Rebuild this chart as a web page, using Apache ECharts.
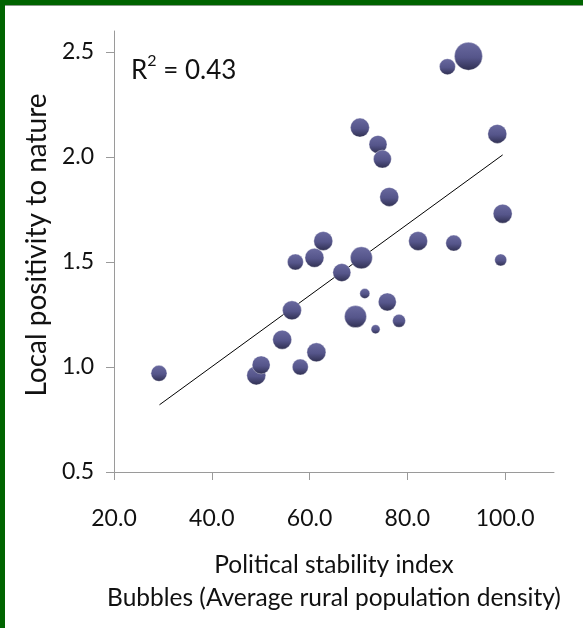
<!DOCTYPE html>
<html>
<head>
<meta charset="utf-8">
<script src="https://cdn.jsdelivr.net/npm/echarts@6/dist/echarts.min.js"></script>
<style>
  html, body { margin: 0; padding: 0; background: #ffffff; }
  #wrap { position: relative; width: 583px; height: 628px; overflow: hidden; background: #fff; }
  #main { position: absolute; left: 0; top: 0; width: 583px; height: 628px; }
  #bt { position: absolute; left: 0; top: 0; width: 583px; height: 5px; background: #006400; border-bottom: 1px solid #8a9a8a; }
  #bl { position: absolute; left: 0; top: 0; width: 5px; height: 628px; background: #006400; }
</style>
</head>
<body>
<div id="wrap"><div id="main"></div><div id="bt"></div><div id="bl"></div></div>
<script>
// Political stability index (x)
const stability = [29.2, 49.1, 50.1, 54.4, 56.4, 57.1, 58.1, 61.4, 61.0, 62.8, 66.6, 69.4, 70.6, 70.3,
                   71.3, 74.0, 74.9, 73.5, 75.9, 76.3, 78.3, 82.2, 88.2, 89.5, 92.5, 98.4, 99.5, 99.1];
// Local positivity to nature (y)
const positivity = [0.97, 0.96, 1.01, 1.13, 1.27, 1.50, 1.00, 1.07, 1.52, 1.60, 1.45, 1.24, 1.52, 2.14,
                    1.35, 2.06, 1.99, 1.18, 1.31, 1.81, 1.22, 1.60, 2.43, 1.59, 2.48, 2.11, 1.73, 1.51];
// Average rural population density (bubble size, relative units)
const density = [128, 180, 162, 180, 180, 128, 128, 180, 180, 180, 162, 242, 242, 180,
                 50, 162, 162, 40, 162, 180, 84, 180, 128, 128, 392, 180, 180, 72];
// Trend line end points
const trendX = [29.3, 99.5];
const trendY = [0.82, 2.01];
const xTicks = [20, 40, 60, 80, 100];
const yTicks = [0.5, 1.0, 1.5, 2.0, 2.5];
const r2Text = '0.43';

const bubbles = stability.map((x, i) => [x, positivity[i], density[i]]);
const trend = trendX.map((x, i) => [x, trendY[i]]);

const FONT = 'Lato';
const chart = echarts.init(document.getElementById('main'), null, { renderer: 'canvas' });
const bubbleColor = new echarts.graphic.LinearGradient(0, 0, 0, 1, [
  { offset: 0, color: '#6a6aa0' },
  { offset: 0.55, color: '#55558a' },
  { offset: 1, color: '#2f2f50' }
]);

chart.setOption({
  animation: false,
  backgroundColor: '#ffffff',
  grid: { left: 114, right: 29, top: 31, bottom: 156, containLabel: false },
  xAxis: {
    type: 'value', min: 20, max: 110, interval: 20,
    axisLine: { show: true, lineStyle: { color: '#9a9a9a', width: 1 } },
    axisTick: { show: true, length: 8, customValues: xTicks, lineStyle: { color: '#9a9a9a' } },
    axisLabel: { customValues: xTicks, margin: 35, fontFamily: FONT, fontSize: 23, color: '#111',
                 formatter: v => v.toFixed(1) },
    splitLine: { show: false },
    name: 'Political stability index\nBubbles (Average rural population density)',
    nameLocation: 'middle', nameGap: 77,
    nameTextStyle: { fontFamily: FONT, fontSize: 24.5, color: '#111', lineHeight: 33, verticalAlign: 'top' }
  },
  yAxis: {
    type: 'value', min: 0.5, max: 2.6, interval: 0.5,
    axisLine: { show: true, lineStyle: { color: '#9a9a9a', width: 1 } },
    axisTick: { show: true, length: 8, customValues: yTicks, lineStyle: { color: '#9a9a9a' } },
    axisLabel: { customValues: yTicks, margin: 20, fontFamily: FONT, fontSize: 23, color: '#111',
                 formatter: v => v.toFixed(1) },
    splitLine: { show: false },
    name: 'Local positivity to nature',
    nameLocation: 'middle', nameGap: 61,
    nameTextStyle: { fontFamily: FONT, fontSize: 28, color: '#111', padding: [0, 0, 0, 13] }
  },
  series: [
    {
      type: 'line', data: trend, symbol: 'none', silent: true, z: 1,
      lineStyle: { color: '#000', width: 1 }
    },
    {
      type: 'scatter', data: bubbles, z: 2,
      symbolSize: d => 2 * Math.sqrt(d[2] / 2),
      itemStyle: { color: bubbleColor, borderColor: 'rgba(255,255,255,0.6)', borderWidth: 0.6, opacity: 1 }
    }
  ],
  graphic: [{
    type: 'text', left: 131, top: 53,
    style: {
      text: '{r|R}{s|2}{r| = ' + r2Text + '}',
      rich: {
        r: { fontFamily: FONT, fontSize: 26, fill: '#111', verticalAlign: 'bottom' },
        s: { fontFamily: FONT, fontSize: 16, fill: '#111', verticalAlign: 'top', padding: [0, 0, 15, 0] }
      }
    }
  }]
});
</script>
</body>
</html>
